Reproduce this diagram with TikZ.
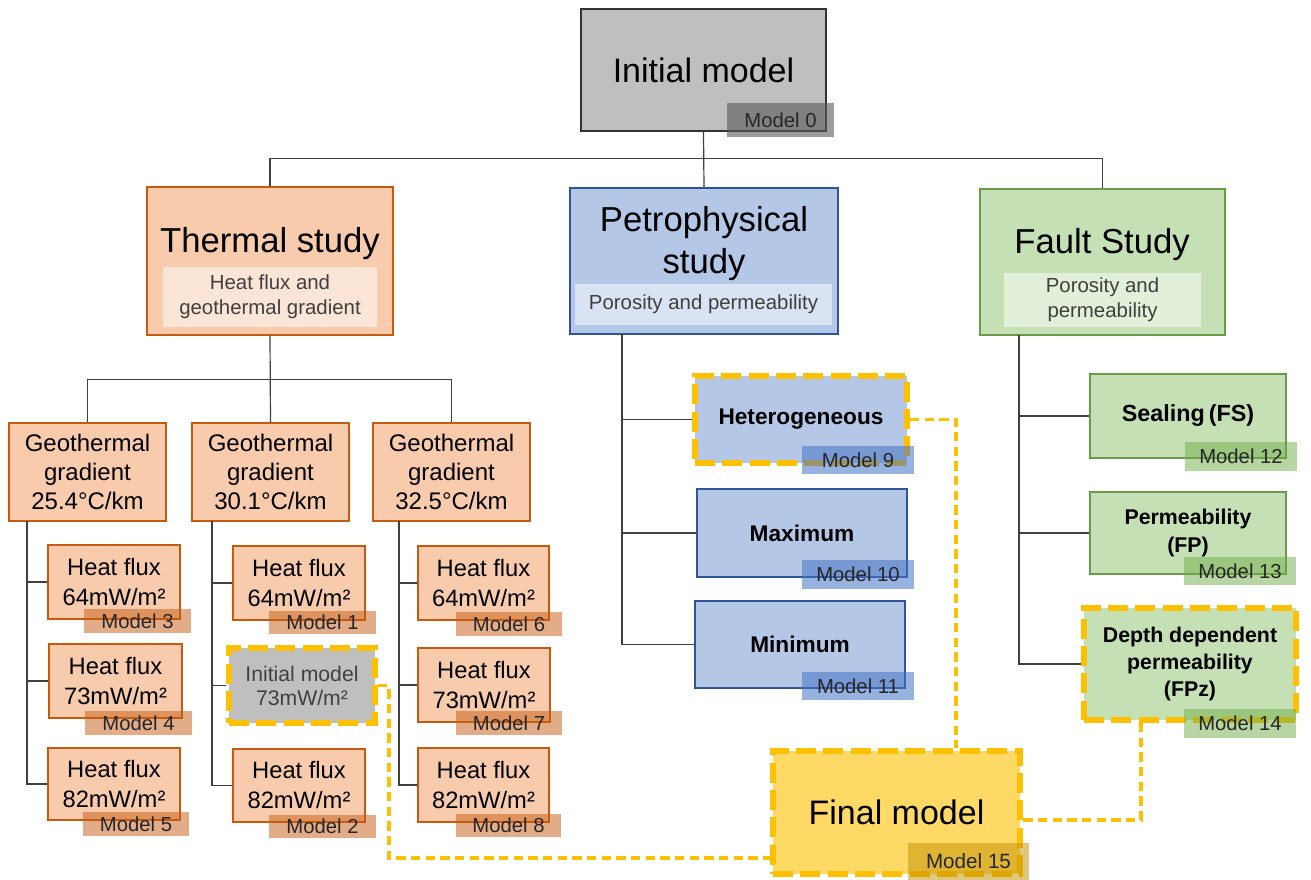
\documentclass[tikz,border=0pt]{standalone}
\usepackage{fontspec}
\setmainfont{Liberation Sans}
\definecolor{peach}{HTML}{F8CBAD}
\definecolor{peachln}{HTML}{C55A11}
\definecolor{peachlt}{HTML}{FBE5D6}
\definecolor{bluef}{HTML}{B4C7E7}
\definecolor{blueln}{HTML}{2F5597}
\definecolor{bluelt}{HTML}{DAE3F3}
\definecolor{greenf}{HTML}{C5E0B4}
\definecolor{greenln}{HTML}{6A9A4A}
\definecolor{greenlt}{HTML}{E2F0D9}
\definecolor{grayf}{HTML}{BFBFBF}
\definecolor{gold}{HTML}{FFC000}
\definecolor{finalf}{HTML}{FFD966}
\definecolor{txtd}{HTML}{262626}
\definecolor{subt}{HTML}{404040}
\definecolor{labB}{HTML}{4472C4}
\definecolor{labG}{HTML}{70AD47}
\definecolor{labY}{HTML}{BF9000}
\tikzset{
  conn/.style={draw=black!75, line width=0.9pt},
  ylink/.style={draw=gold, line width=2.3pt, dash pattern=on 7pt off 4pt},
  ybord/.style={draw=gold, line width=4.5pt, dash pattern=on 15pt off 5.5pt},
  fitbox/.style={inner sep=0pt, align=center},
  obox/.style={fitbox, fill=peach, draw=peachln, line width=0.8pt},
  bbox/.style={fitbox, fill=bluef, draw=blueln, line width=0.8pt},
  gbox/.style={fitbox, fill=greenf, draw=greenln, line width=0.8pt},
  kbox/.style={fitbox, fill=grayf, draw=black!80, line width=0.8pt},
  subbox/.style={fitbox, text=subt, font=\fontsize{15.3}{18.75}\selectfont},
  mlab/.style={inner sep=0pt, text=txtd, font=\fontsize{15.2}{16}\selectfont, fill opacity=#1, text opacity=1},
  mlabO/.style={mlab=0.5, fill=peachln},
  mlabB/.style={mlab=0.55, fill=labB},
  mlabG/.style={mlab=0.5, fill=labG},
  mlabK/.style={mlab=0.6, fill=black!65},
  mlabY/.style={mlab=0.5, fill=labY, font=\fontsize{15.5}{17}\selectfont},
  geo/.style={obox, font=\fontsize{18}{21.75}\selectfont},
  hf/.style={obox, font=\fontsize{17.8}{22.5}\selectfont},
  bsub/.style={bbox, font=\bfseries\fontsize{17}{20}\selectfont},
}
% #1 style, #2 name, #3 x1, #4 y1, #5 x2, #6 y2, #7 text
\newcommand\mkbox[7]{\node[#1, minimum width={(#5-#3)*0.75pt}, minimum height={(#6-#4)*0.75pt}] (#2) at ({(#3+#5)/2},{(#4+#6)/2}) {#7};}
\begin{document}
\begin{tikzpicture}[x=0.75pt, y=-0.75pt]
\useasboundingbox (0,0) rectangle (1311,880);
% top
\mkbox{kbox, font=\fontsize{25.5}{30}\selectfont}{init}{581}{9}{826}{131}{Initial model}
% study boxes
\mkbox{obox}{ther}{147}{187}{393}{335}{}
\node[font=\fontsize{26}{31}\selectfont] (thert) at (270,244) {Thermal study};
\mkbox{subbox, fill=peachlt}{thers}{163}{267}{377}{327}{Heat flux and\\geothermal gradient}
\mkbox{bbox}{petro}{570}{188}{838}{334}{}
\node[font=\fontsize{26}{31.5}\selectfont, align=center] (petrot) at (704,244) {Petrophysical\\study};
\mkbox{subbox, fill=bluelt}{petros}{575}{284}{832}{325}{Porosity and permeability}
\mkbox{gbox}{fault}{980}{189}{1225}{335}{}
\node[font=\fontsize{26}{30}\selectfont] (faultt) at (1102,245) {Fault Study};
\mkbox{subbox, fill=greenlt}{faults}{1004}{273}{1201}{327}{Porosity and\\permeability}
% geothermal
\mkbox{geo}{g1}{9}{423}{166}{521}{Geothermal\\gradient\\25.4°C/km}
\mkbox{geo}{g2}{192}{423}{349}{521}{Geothermal\\gradient\\30.1°C/km}
\mkbox{geo}{g3}{373}{423}{530}{521}{Geothermal\\gradient\\32.5°C/km}
% heat flux
\mkbox{hf}{h3}{48}{545}{180}{619}{Heat flux\\64mW/m²}
\mkbox{hf}{h4}{49}{644}{182}{718}{Heat flux\\73mW/m²}
\mkbox{hf}{h5}{48}{748}{180}{820}{Heat flux\\82mW/m²}
\mkbox{hf}{h1}{233}{546}{365}{620}{Heat flux\\64mW/m²}
\mkbox{fitbox, fill=grayf, ybord, text=subt, font=\fontsize{15.9}{18}\selectfont}{init2}{229}{648}{375}{723}{Initial model\\73mW/m²}
\mkbox{hf}{h2}{233}{749}{365}{822}{Heat flux\\82mW/m²}
\mkbox{hf}{h6}{418}{546}{549}{620}{Heat flux\\64mW/m²}
\mkbox{hf}{h7}{418}{648}{550}{722}{Heat flux\\73mW/m²}
\mkbox{hf}{h8}{418}{748}{549}{822}{Heat flux\\82mW/m²}
% petro children
\mkbox{bsub, ybord}{het}{695}{376}{907}{463}{Heterogeneous}
\mkbox{bsub}{max}{697}{489}{907}{577}{Maximum}
\mkbox{bsub}{min}{695}{601}{905}{688}{Minimum}
% fault children
\mkbox{gbox, font=\bfseries\fontsize{17.5}{20}\selectfont}{seal}{1090}{374}{1286}{458}{Sealing\,(FS)}
\mkbox{gbox, font=\bfseries\fontsize{16}{20.6}\selectfont}{perm}{1090}{492}{1286}{574}{Permeability\\(FP)}
\mkbox{gbox, ybord, font=\bfseries\fontsize{16}{20.6}\selectfont}{depth}{1084}{608}{1296}{720}{Depth dependent\\permeability\\(FPz)}
% final
\mkbox{fitbox, fill=finalf, ybord, font=\fontsize{25.5}{30}\selectfont}{fin}{773}{751}{1020}{874}{Final model}
% tree connectors
\draw[conn] (init.south) -- (petro.north);
\draw[conn] (ther.north) -- ++(0,-28) -| (fault.north);
\draw[conn] (ther.south) -- (g2.north);
\draw[conn] (g1.north) -- ++(0,-43) -| (g3.north);
\coordinate (v1) at (27,521);
\coordinate (v2) at (212,521);
\coordinate (v3) at (399,521);
\draw[conn] (v1) |- (h5.west);
\draw[conn] (v1 |- h3.west) -- (h3.west);
\draw[conn] (v1 |- h4.west) -- (h4.west);
\draw[conn] (v2) |- (h2.west);
\draw[conn] (v2 |- h1.west) -- (h1.west);
\draw[conn] (v2 |- init2.west) -- (init2.west);
\draw[conn] (v3) |- (h8.west);
\draw[conn] (v3 |- h6.west) -- (h6.west);
\draw[conn] (v3 |- h7.west) -- (h7.west);
\coordinate (pv) at (622,334);
\draw[conn] (pv) |- (min.west);
\draw[conn] (pv |- het.west) -- (het.west);
\draw[conn] (pv |- max.west) -- (max.west);
\coordinate (fv) at (1019,335);
\draw[conn] (fv) |- (depth.west);
\draw[conn] (fv |- seal.west) -- (seal.west);
\draw[conn] (fv |- perm.west) -- (perm.west);
% yellow dashed links
\coordinate (k1) at (389,858);
\coordinate (k2) at (956,0);
\coordinate (k3) at (1141,820);
\draw[ylink] (init2.east) -| (k1) -- (k1 -| fin.west);
\draw[ylink] (het.east) -| (k2 |- fin.north);
\draw[ylink] (k3 |- depth.south) -- (k3) -- (k3 -| fin.east);
% model labels
\mkbox{mlabK}{m0}{727}{103}{834}{137}{Model 0}
\mkbox{mlabO}{m3}{84}{609}{191}{633}{Model 3}
\mkbox{mlabO}{m4}{85}{711}{192}{735}{Model 4}
\mkbox{mlabO}{m5}{83}{812}{189}{836}{Model 5}
\mkbox{mlabO}{m1}{269}{611}{376}{634}{Model 1}
\mkbox{mlabO}{m2}{269}{815}{376}{838}{Model 2}
\mkbox{mlabO}{m6}{456}{612}{562}{636}{Model 6}
\mkbox{mlabO}{m7}{456}{711}{562}{735}{Model 7}
\mkbox{mlabO}{m8}{456}{814}{561}{837}{Model 8}
\mkbox{mlabB}{m9}{802}{446}{914}{474}{Model 9}
\mkbox{mlabB}{m10}{802}{560}{914}{589}{Model 10}
\mkbox{mlabB}{m11}{802}{672}{914}{700}{Model 11}
\mkbox{mlabG}{m12}{1185}{442}{1297}{471}{Model 12}
\mkbox{mlabG}{m13}{1184}{557}{1296}{585}{Model 13}
\mkbox{mlabG}{m14}{1184}{709}{1296}{738}{Model 14}
\mkbox{mlabY}{m15}{908}{843}{1029}{880}{Model 15}
\end{tikzpicture}
\end{document}
